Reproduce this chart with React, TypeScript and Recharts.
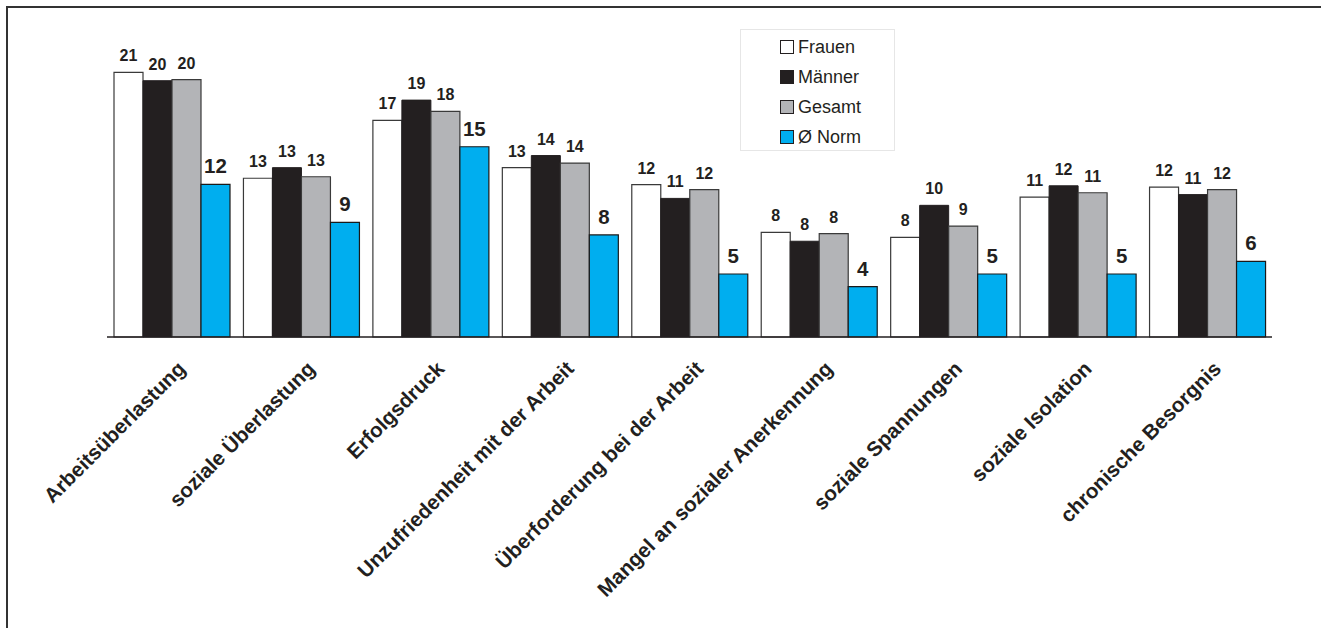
import { Bar, BarChart, LabelList, XAxis, YAxis } from "recharts"

const categories = [
    "Arbeitsüberlastung",
    "soziale Überlastung",
    "Erfolgsdruck",
    "Unzufriedenheit mit der Arbeit",
    "Überforderung bei der Arbeit",
    "Mangel an sozialer Anerkennung",
    "soziale Spannungen",
    "soziale Isolation",
    "chronische Besorgnis",
]

const frauen = [21.0, 12.6, 17.2, 13.45, 12.1, 8.3, 7.9, 11.1, 11.9]
const maenner = [20.34, 13.44, 18.8, 14.4, 11.0, 7.6, 10.45, 12.0, 11.3]
const gesamt = [20.42, 12.72, 17.9, 13.8, 11.7, 8.2, 8.8, 11.45, 11.7]
const norm = [12.12, 9.1, 15.1, 8.1, 5.0, 4.0, 5.0, 5.0, 6.0]

const data = categories.map((name, i) => ({
    name,
    frauen: frauen[i],
    maenner: maenner[i],
    gesamt: gesamt[i],
    norm: norm[i],
}))

const FONT = "'Liberation Sans', Arial, Helvetica, sans-serif"
const INK = "#231f20"

const legendItems = [
    { label: "Frauen", fill: "#ffffff" },
    { label: "Männer", fill: INK },
    { label: "Gesamt", fill: "#b3b4b7" },
    { label: "Ø Norm", fill: "#00aeef" },
]

function LegendBox() {
    return (
        <div
            style={{
                position: "absolute",
                left: 740,
                top: 29,
                width: 155,
                height: 122,
                border: "1px solid #e6e6e6",
                background: "#fff",
                boxSizing: "border-box",
                paddingTop: 2,
                fontFamily: FONT,
            }}
        >
            {legendItems.map((it) => (
                <div key={it.label} style={{ height: 30, display: "flex", alignItems: "center", paddingLeft: 39 }}>
                    <span
                        style={{
                            display: "inline-block",
                            width: 12,
                            height: 12,
                            background: it.fill,
                            border: `1px solid ${INK}`,
                            marginRight: 4,
                        }}
                    />
                    <span style={{ fontSize: 18, color: INK }}>{it.label}</span>
                </div>
            ))}
        </div>
    )
}

function CategoryTick({ x, y, payload }: any) {
    return (
        <g transform={`translate(${x + 15},${y + 25}) rotate(-45)`}>
            <text x={0} y={0} textAnchor="end" fontFamily={FONT} fontWeight="bold" fontSize={20.7} fill={INK}>
                {payload.value}
            </text>
        </g>
    )
}

const small = { fontFamily: FONT, fontWeight: "bold", fontSize: 16, fill: INK }
const big = { fontFamily: FONT, fontWeight: "bold", fontSize: 20.5, fill: INK }
const round = (v: any) => Math.round(Number(v))

export default function App() {
    return (
        <div style={{ position: "absolute", left: 0, top: 0, width: 1321, height: 628, background: "#fff", overflow: "hidden" }}>
            <div
                style={{
                    position: "absolute",
                    left: 6,
                    top: 6,
                    width: 1330,
                    height: 640,
                    borderLeft: "2px solid #333",
                    borderTop: "2px solid #333",
                }}
            />
            <div style={{ position: "absolute", left: 0, top: 0 }}>
                <BarChart
                    width={1321}
                    height={628}
                    data={data}
                    margin={{ top: 22, right: 49, left: 107, bottom: 0 }}
                    barCategoryGap={7}
                    barGap={0}
                >
                    <XAxis
                        dataKey="name"
                        height={291}
                        interval={0}
                        tickLine={false}
                        axisLine={{ stroke: INK, strokeWidth: 1.5 }}
                        tick={<CategoryTick />}
                    />
                    <YAxis hide type="number" domain={[0, 25]} />
                    <Bar dataKey="frauen" fill="#ffffff" stroke="#3a3a3a" strokeWidth={1.2} isAnimationActive={false}>
                        <LabelList dataKey="frauen" position="top" offset={11} formatter={round} style={small} />
                    </Bar>
                    <Bar dataKey="maenner" fill={INK} stroke={INK} strokeWidth={1} isAnimationActive={false}>
                        <LabelList dataKey="maenner" position="top" offset={11} formatter={round} style={small} />
                    </Bar>
                    <Bar dataKey="gesamt" fill="#b3b4b7" stroke="#3a3a3a" strokeWidth={1.2} isAnimationActive={false}>
                        <LabelList dataKey="gesamt" position="top" offset={11} formatter={round} style={small} />
                    </Bar>
                    <Bar dataKey="norm" fill="#00aeef" stroke="#1a1a1a" strokeWidth={1.2} isAnimationActive={false}>
                        <LabelList dataKey="norm" position="top" offset={11} formatter={round} style={big} />
                    </Bar>
                </BarChart>
            </div>
            <LegendBox />
        </div>
    )
}
